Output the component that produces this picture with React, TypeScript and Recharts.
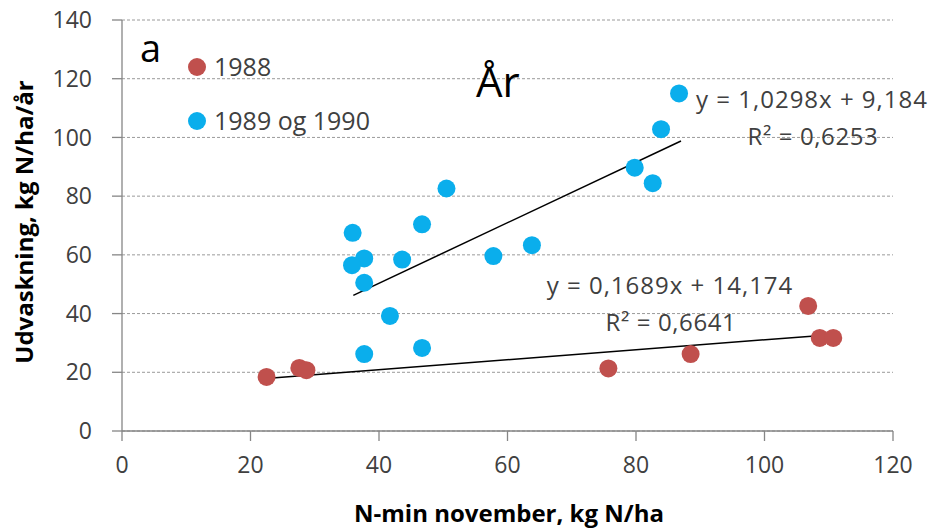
import React from 'react';
import { ScatterChart, Scatter, XAxis, YAxis, CartesianGrid, ReferenceLine } from 'recharts';

// 1988 målinger (N-min november, udvaskning)
const red1988X = [22.5, 27.6, 28.7, 75.7, 88.5, 106.8, 108.6, 110.7];
const red1988Y = [18.4, 21.5, 20.7, 21.3, 26.2, 42.6, 31.7, 31.7];

// 1989 og 1990 målinger
const blue8990X = [50.5, 35.9, 46.7, 37.7, 35.8, 43.6, 57.8, 37.7, 41.7, 37.7, 46.7, 63.8, 86.7, 83.9, 79.8, 82.6];
const blue8990Y = [82.6, 67.5, 70.4, 58.8, 56.5, 58.4, 59.6, 50.5, 39.2, 26.2, 28.3, 63.3, 115.0, 102.8, 89.7, 84.4];

// tendenslinjer (endepunkter aflæst)
const redTrendX = [22.9, 110.9];
const redTrendY = [18.0, 32.9];
const blueTrendX = [36.0, 87.0];
const blueTrendY = [46.2, 98.8];

const xTicks = [0, 20, 40, 60, 80, 100, 120];
const yTicks = [0, 20, 40, 60, 80, 100, 120, 140];

const RED = '#C0504D';
const BLUE = '#0AAEEC';
const FONT = '"Open Sans", "Noto Sans", sans-serif';

const toPoints = (xs: number[], ys: number[]) => xs.map((x, i) => ({ x, y: ys[i] }));

const redData = toPoints(red1988X, red1988Y);
const blueData = toPoints(blue8990X, blue8990Y);

const Dot = (color: string) => (props: any) => (
  <circle cx={props.cx} cy={props.cy} r={9} fill={color} />
);

export default function App() {
  return (
    <div style={{ width: 933, height: 529, background: '#fff' }}>
      <style>{'body{margin:0}'}</style>
      <ScatterChart width={933} height={529} margin={{ top: 20, right: 40, bottom: 38, left: 42 }}>
        <CartesianGrid vertical={false} stroke="#9a9a9a" strokeDasharray="3 2" />
        <XAxis
          type="number"
          dataKey="x"
          domain={[0, 120]}
          ticks={xTicks}
          height={60}
          tickSize={10}
          tickMargin={16}
          stroke="#868686"
          strokeWidth={1.3}
          tick={{ fontSize: 23, fill: '#404040', fontFamily: FONT }}
        />
        <YAxis
          type="number"
          dataKey="y"
          domain={[0, 140]}
          ticks={yTicks}
          width={80}
          tickSize={10}
          tickMargin={20}
          stroke="#868686"
          strokeWidth={1.3}
          tick={{ fontSize: 23, fill: '#404040', fontFamily: FONT }}
        />
        <Scatter name="1988" data={redData} isAnimationActive={false} shape={Dot(RED)} />
        <Scatter name="1989 og 1990" data={blueData} isAnimationActive={false} shape={Dot(BLUE)} />
        <ReferenceLine
          segment={[{ x: redTrendX[0], y: redTrendY[0] }, { x: redTrendX[1], y: redTrendY[1] }]}
          stroke="#000"
          strokeWidth={1.5}
        />
        <ReferenceLine
          segment={[{ x: blueTrendX[0], y: blueTrendY[0] }, { x: blueTrendX[1], y: blueTrendY[1] }]}
          stroke="#000"
          strokeWidth={1.5}
        />

        {/* tekster */}
        <text x={140} y={62} fontSize={38} fontFamily={FONT} fill="#000">a</text>
        <text x={476} y={97} fontSize={42} fontFamily={FONT} fill="#000">År</text>

        <circle cx={197} cy={67} r={9} fill={RED} />
        <text x={214} y={76} fontSize={25} fontFamily={FONT} fill="#404040">1988</text>
        <circle cx={197} cy={121} r={9} fill={BLUE} />
        <text x={214} y={130} fontSize={25} fontFamily={FONT} fill="#404040">1989 og 1990</text>

        <text x={812} y={108} textAnchor="middle" fontSize={24} letterSpacing={1} fontFamily={FONT} fill="#404040">y = 1,0298x + 9,184</text>
        <text x={813} y={145} textAnchor="middle" fontSize={24} letterSpacing={0.6} fontFamily={FONT} fill="#404040">R² = 0,6253</text>
        <text x={670} y={294} textAnchor="middle" fontSize={24} letterSpacing={1} fontFamily={FONT} fill="#404040">y = 0,1689x + 14,174</text>
        <text x={671} y={331} textAnchor="middle" fontSize={24} letterSpacing={0.6} fontFamily={FONT} fill="#404040">R² = 0,6641</text>

        <text x={509} y={522} textAnchor="middle" fontSize={24} fontWeight="bold" fontFamily={FONT} fill="#000">
          N-min november, kg N/ha
        </text>
        <text
          x={23}
          y={222}
          textAnchor="middle"
          dominantBaseline="central"
          transform="rotate(-90 23 222)"
          fontSize={24}
          fontWeight="bold"
          fontFamily={FONT}
          fill="#000"
        >
          Udvaskning, kg N/ha/år
        </text>
      </ScatterChart>
    </div>
  );
}
